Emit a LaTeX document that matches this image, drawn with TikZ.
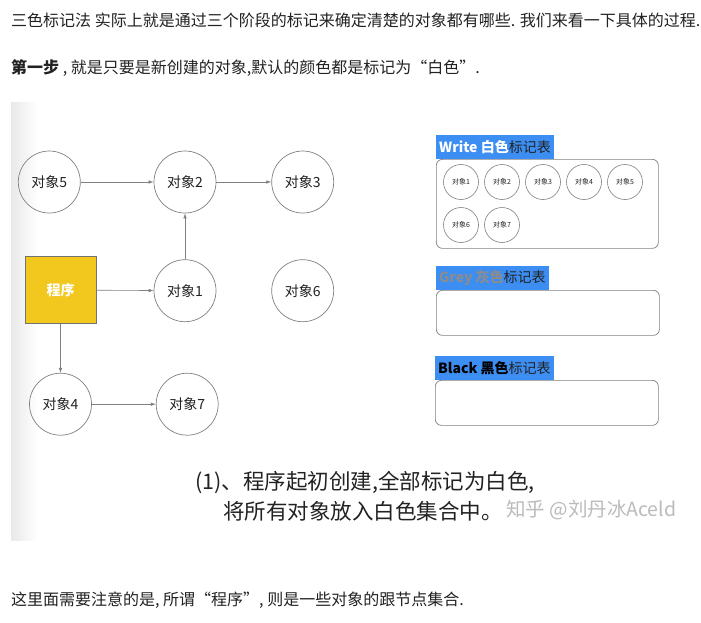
\documentclass[tikz,border=0pt]{standalone}
\usepackage{fontspec}
\setmainfont{Noto Sans CJK SC}
\usepackage{xcolor}
\usetikzlibrary{positioning,arrows.meta}
\definecolor{progyellow}{HTML}{F2C81E}
\definecolor{tagblue}{HTML}{3D8EF2}
\definecolor{linegray}{HTML}{808080}
\definecolor{textdark}{HTML}{222222}
\definecolor{marksilver}{HTML}{BBBBBB}
\newcommand{\fsize}[1]{\fontsize{#1}{1.2\dimexpr#1pt\relax}\selectfont}

\begin{document}
\begin{tikzpicture}[x=1pt,y=-1pt,
obj/.style={
circle,draw=linegray,line width=0.7pt,
minimum size=62pt,inner sep=0pt,
font=\fsize{14},text=textdark
},
smallobj/.style={
circle,draw=linegray,line width=0.6pt,
minimum size=35pt,inner sep=0pt,
font=\fsize{7},text=textdark
},
prog/.style={
rectangle,draw=black!55,fill=progyellow,line width=0.7pt,
minimum width=71pt,minimum height=67pt,
font=\fsize{14}\bfseries,text=white
},
tagbox/.style={
rectangle,draw=linegray,rounded corners=6pt,line width=0.7pt
},
tag/.style={
rectangle,fill=tagblue,anchor=south west,
inner xsep=3pt,inner ysep=0pt,
minimum height=24pt,font=\fsize{14},text=textdark
},
bodyline/.style={anchor=west,inner sep=0pt,font=\fsize{16},text=textdark},
caption/.style={anchor=west,inner sep=0pt,font=\fsize{21.5},text=textdark},
arrow/.style={-{Latex[length=5pt,width=3.5pt]},draw=linegray,line width=0.6pt}
]

\useasboundingbox (0,0) rectangle (701,622);
\fill[white] (0,0) rectangle (701,622);
\shade[left color=black!9,right color=white] (11,102) rectangle (37,540);

% text around the picture
\node[bodyline] (intro) at (11,20) {三色标记法 实际上就是通过三个阶段的标记来确定清楚的对象都有哪些. 我们来看一下具体的过程.};
\node[bodyline] (stepone) at (11,68) {{\bfseries 第一步} , 就是只要是新创建的对象,默认的颜色都是标记为“白色”.};
\node[bodyline] (note) at (11,600) {这里面需要注意的是, 所谓“程序”, 则是一些对象的跟节点集合.};

% object graph
\node[obj] (obj2) at (185,182) {对象2};
\node[obj,left=73pt of obj2] (obj5) {对象5};
\node[obj,right=55pt of obj2] (obj3) {对象3};
\node[obj,below=46pt of obj2] (obj1) {对象1};
\node[obj,right=55pt of obj1] (obj6) {对象6};
\node[prog] (prog) at (60.5,290) {程序};
\node[obj,below=49pt of prog] (obj4) {对象4};
\node[obj,right=64pt of obj4] (obj7) {对象7};

\draw[arrow] (obj5) -- (obj2);
\draw[arrow] (obj2) -- (obj3);
\draw[arrow] (obj1) -- (obj2);
\draw[arrow] (prog) -- (obj1);
\draw[arrow] (prog.south) -- (obj4.north);
\draw[arrow] (obj4) -- (obj7);

% mark tables
\node[tagbox,minimum width=222pt,minimum height=89pt,anchor=north west] (white) at (436,159) {};
\node[tag] (whitetag) at (white.north west) {\textcolor{white}{\bfseries Write 白色}标记表};
\node[tagbox,minimum width=223pt,minimum height=45pt,anchor=north west] (grey) at (436,290) {};
\node[tag] (greytag) at (grey.north west) {\textcolor{black!45}{\bfseries Grey 灰色}标记表};
\node[tagbox,minimum width=223pt,minimum height=45pt,anchor=north west] (black) at (435,380) {};
\node[tag] (blacktag) at (black.north west) {\textcolor{black}{\bfseries Black 黑色}标记表};

\foreach \i in {1,...,5}
  \node[smallobj] (w\i) at ({461+41*(\i-1)},182) {对象\i};
\foreach \i in {6,7}
  \node[smallobj] (w\i) at ({461+41*(\i-6)},225) {对象\i};

% caption
\node[caption] (capone) at (195,482) {(1)、程序起初创建,全部标记为白色,};
\node[caption] (captwo) at (223,511) {将所有对象放入白色集合中。};
\node[anchor=west,inner sep=0pt,font=\fsize{19.5},text=marksilver] (mark) at (506,510) {知乎 @刘丹冰Aceld};

\end{tikzpicture}
\end{document}
